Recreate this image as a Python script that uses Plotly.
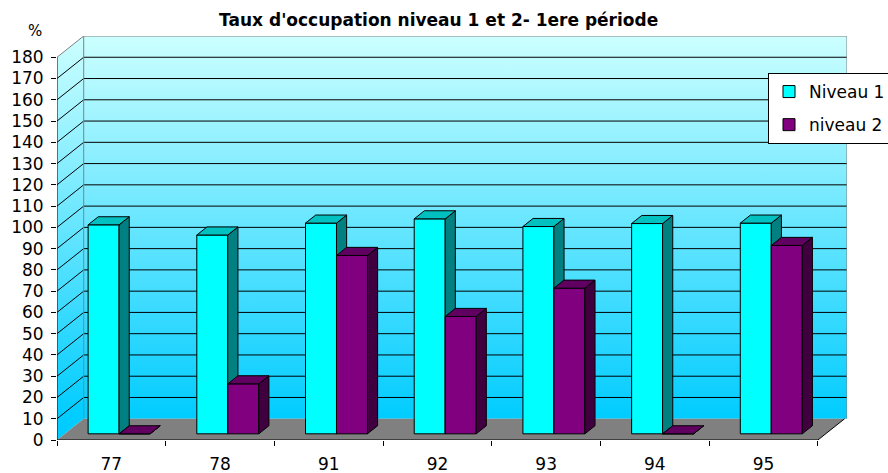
import plotly.graph_objects as go

# ---------------- data ----------------
categories = ["77", "78", "91", "92", "93", "94", "95"]
niveau1 = [98.3, 93.5, 99.1, 101.1, 97.5, 98.9, 99.1]
niveau2 = [0, 23.5, 83.9, 55.2, 68.5, 0, 88.6]
series_names = ["Niveau 1", "niveau 2"]
y_tick_values = list(range(0, 181, 10))
title_text = "Taux d'occupation niveau 1 et 2- 1ere période"
y_unit_label = "%"

# ---------------- styling / geometry (axis units) ----------------
FONT = "DejaVu Sans"
N = len(categories)
YMAX = 180
DX = 0.2456          # depth offset on x (band units)
DY = 10              # depth offset on y (value units)
XMAX = 7.2677
BAR_W = 0.285
F0 = 0.29            # depth position of bar front
FD = 0.38            # bar depth fraction
front_cols = ["#00FFFF", "#800080"]
side_cols = ["#008080", "#400040"]
top_cols = ["#00C0C0", "#600060"]

fig = go.Figure()

def poly(xs, ys, fill=None, line_color="black", width=1, grad=None, clip=True):
    kw = dict(x=xs, y=ys, mode="lines", showlegend=False, hoverinfo="skip",
              line=dict(color=line_color, width=width), cliponaxis=clip)
    if fill is not None or grad is not None:
        kw["fill"] = "toself"
        if fill is not None:
            kw["fillcolor"] = fill
        if grad is not None:
            kw["fillgradient"] = grad
    fig.add_trace(go.Scatter(**kw))

grad = dict(type="vertical", colorscale=[[0, "#00CCFF"], [1, "#CCFFFF"]],
            start=DY, stop=YMAX + DY)

# back wall
poly([DX, XMAX, XMAX, DX, DX], [DY, DY, YMAX + DY, YMAX + DY, DY],
     grad=grad, width=0, line_color="rgba(0,0,0,0)")
# side wall
poly([0, DX, DX, 0, 0], [0, DY, YMAX + DY, YMAX, 0],
     grad=grad, width=0, line_color="rgba(0,0,0,0)")
# floor
poly([0, N, N + DX, DX, 0], [0, 0, DY, DY, 0], fill="#808080",
     width=0, line_color="rgba(0,0,0,0)")

# gridlines
gx, gy = [], []
for v in y_tick_values[1:-1]:
    gx += [0, DX, XMAX, None]
    gy += [v, v + DY, v + DY, None]
poly(gx, gy, line_color="#000000", width=1)

# wall borders (gray)
poly([DX, DX, None, 0, DX, XMAX, XMAX],
     [DY, YMAX + DY, None, YMAX, YMAX + DY, YMAX + DY, DY],
     line_color="#808080", width=1, clip=False)

# axes (black)
poly([0, 0, None, 0, N, N + DX], [YMAX, 0, None, 0, 0, DY],
     line_color="#000000", width=1, clip=False)

# bars
base = F0 * DY
ddx, ddy = FD * DX, FD * DY
for s, vals in enumerate([niveau1, niveau2]):
    fx, fy, sx, sy, tx, ty = [], [], [], [], [], []
    for i, v in enumerate(vals):
        x0 = i + 0.5 - BAR_W + s * BAR_W + F0 * DX
        x1 = x0 + BAR_W
        b, t = base, base + v
        fx += [x0, x1, x1, x0, x0, None]
        fy += [b, b, t, t, b, None]
        sx += [x1, x1 + ddx, x1 + ddx, x1, x1, None]
        sy += [b, b + ddy, t + ddy, t, b, None]
        tx += [x0, x1, x1 + ddx, x0 + ddx, x0, None]
        ty += [t, t, t + ddy, t + ddy, t, None]
    poly(fx, fy, fill=front_cols[s])
    poly(sx, sy, fill=side_cols[s])
    poly(tx, ty, fill=top_cols[s])

# legend entries
for s, name in enumerate(series_names):
    fig.add_trace(go.Scatter(
        x=[None], y=[None], mode="markers", name=name, legendgroup=name,
        marker=dict(symbol="square", size=12, color=front_cols[s],
                    line=dict(color="black", width=1))))

fig.update_layout(
    width=888, height=473,
    margin=dict(l=57, r=41, t=36, b=33, autoexpand=False),
    paper_bgcolor="white", plot_bgcolor="white",
    font=dict(family=FONT, size=17, color="black"),
    title=dict(text="<b>" + title_text + "</b>", x=0.494, xanchor="center",
               y=1 - 20 / 473, yanchor="middle",
               font=dict(family=FONT, size=17, color="black")),
    showlegend=True,
    legend=dict(x=(768 - 57) / 790, y=(440 - 73) / 404, xanchor="left",
                yanchor="top", bgcolor="white", bordercolor="black",
                borderwidth=1, font=dict(family=FONT, size=17, color="black"),
                tracegroupgap=8),
    xaxis=dict(range=[0, XMAX], showgrid=False, zeroline=False, showline=False,
               automargin=False,
               tickmode="array", tickvals=[i + 0.5 for i in range(N)],
               ticktext=categories, ticks="", ticklabelstandoff=12,
               minor=dict(tickmode="array", tickvals=list(range(N + 1)),
                          ticks="outside", ticklen=5, tickcolor="black",
                          showgrid=False),
               fixedrange=True),
    yaxis=dict(range=[0, YMAX + DY], showgrid=False, zeroline=False,
               automargin=False,
               showline=False, tickmode="array", tickvals=y_tick_values,
               ticks="outside", ticklen=5, tickcolor="black",
               ticklabelstandoff=4, fixedrange=True),
    annotations=[dict(text=y_unit_label, xref="paper", yref="paper",
                      x=(35 - 57) / 790, y=(440 - 31) / 404, showarrow=False,
                      xanchor="center", yanchor="middle",
                      font=dict(family=FONT, size=15, color="black"))],
)

fig.write_html(
    "out.html",
    config={"displayModeBar": False},
    post_script="document.body.style.margin='0';document.body.style.overflow='hidden';",
)
